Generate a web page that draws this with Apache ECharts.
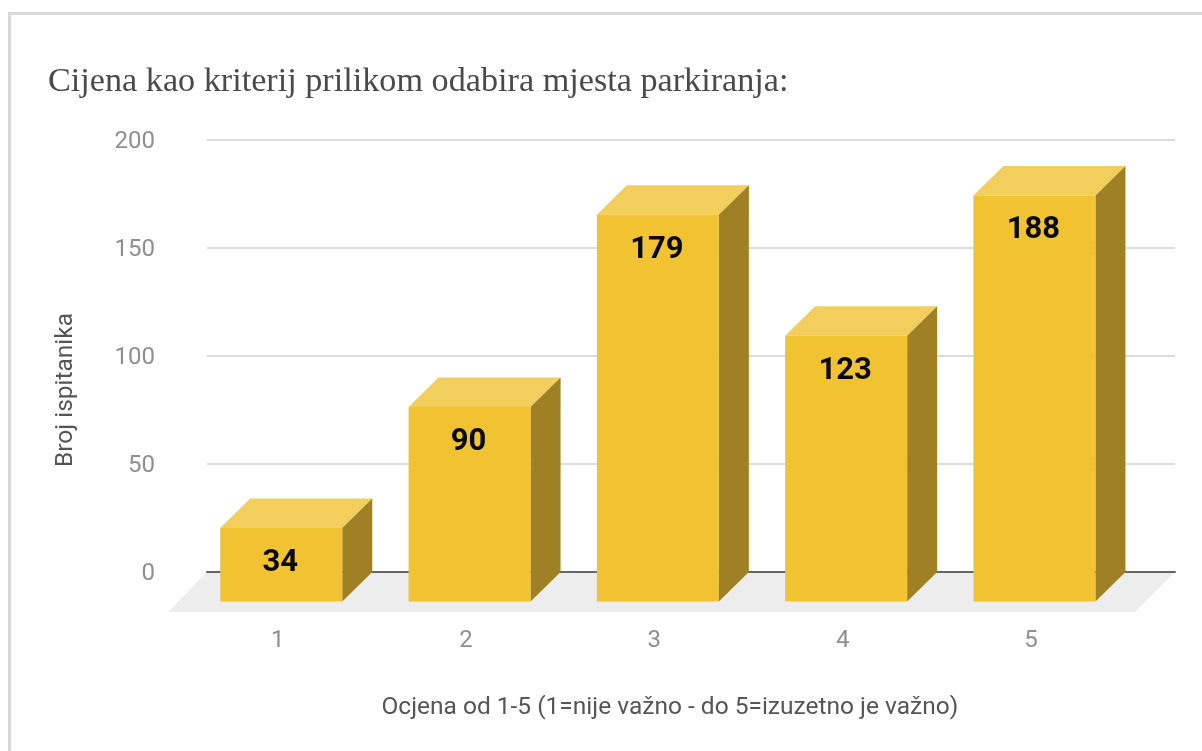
<!DOCTYPE html>
<html><head><meta charset="utf-8">
<style>html,body{margin:0;padding:0;background:#fff;width:1202px;height:751px;overflow:hidden}
#c{position:absolute;left:0;top:0;width:1202px;height:751px}
#frame{position:absolute;left:8px;top:12px;right:0;bottom:0;border-left:3px solid #d9d9d9;border-top:3px solid #d9d9d9;pointer-events:none}</style>
<script src="https://cdn.jsdelivr.net/npm/echarts@6/dist/echarts.min.js"></script>
</head><body><div id="c"></div><div id="frame"></div>
<script>
var categories = ['1','2','3','4','5'];
var values = [34,90,179,123,188];
var titleText = 'Cijena kao kriterij prilikom odabira mjesta parkiranja:';
var xName = 'Ocjena od 1-5 (1=nije važno - do 5=izuzetno je važno)';
var yName = 'Broj ispitanika';
var chart = echarts.init(document.getElementById('c'), null, {renderer:'canvas'});
var DX = 30, DY = 29.5, BW = 122, SHIFT = 3.5;
function renderBar(params, api){
  var p = api.coord([api.value(0), api.value(1)]);
  var zero = api.coord([api.value(0), 0]);
  var fl = p[0] + SHIFT - BW/2, fr = fl + BW;
  var ft = p[1] + DY, fb = zero[1] + DY;
  var br = fr + DX, bl = fl + DX, bt = p[1], bb = zero[1];
  return {type:'group', children:[
    {type:'polygon', shape:{points:[[fl,ft],[bl,bt],[br,bt],[fr,ft]]}, style:{fill:'#f2ce5c'}},
    {type:'polygon', shape:{points:[[fr,ft],[br,bt],[br,bb],[fr,fb]]}, style:{fill:'#9f8024'}},
    {type:'rect', shape:{x:fl,y:ft,width:BW,height:fb-ft}, style:{fill:'#f1c232'}},
    {type:'text', x:(fl+fr)/2-1, y:ft+35, style:{text:String(api.value(1)), fill:'#0a0a0a',
      font:'bold 31px Roboto', textAlign:'center', textVerticalAlign:'middle'}}
  ]};
}
function renderFloor(params, api){
  var cs = params.coordSys, y = cs.y + cs.height, x = cs.x, r = cs.x + cs.width;
  return {type:'polygon', shape:{points:[[x,y],[r,y],[r-40,y+40],[x-39,y+40]]}, style:{fill:'#ededed'}};
}
chart.setOption({
  animation:false,
  backgroundColor:'#fff',
  title:{text:titleText, left:43, top:60, textStyle:{fontFamily:'Liberation Serif', fontSize:34.2, fontWeight:'normal', color:'#4a4a4a'}},
  grid:[
    {left:207, right:27, top:140, bottom:179},
    {left:183.6, width:941.5, top:140, bottom:179}
  ],
  xAxis:[
    {type:'category', gridIndex:0, data:categories, z:1, axisLine:{show:true, lineStyle:{color:'#666', width:2}}, axisTick:{show:false}, axisLabel:{show:false}, splitLine:{show:false}},
    {type:'category', gridIndex:1, data:categories, axisLine:{show:false}, axisTick:{show:false}, axisLabel:{margin:57, fontFamily:'Roboto', fontSize:24, color:'#8f8f8f'},
      name:xName, nameLocation:'middle', nameGap:123, nameTextStyle:{fontFamily:'Roboto', fontSize:24.5, color:'#555', padding:[0,0,0,31]}}
  ],
  yAxis:[
    {type:'value', gridIndex:0, min:0, max:200, interval:50, axisLine:{show:false}, axisTick:{show:false},
      axisLabel:{margin:52, fontFamily:'Roboto', fontSize:24, color:'#8f8f8f', verticalAlign:'top', lineHeight:4}, splitLine:{lineStyle:{color:'#dcdcdc', width:2}},
      name:yName, nameLocation:'middle', nameGap:129, nameRotate:90, nameTextStyle:{fontFamily:'Roboto', fontSize:24.5, color:'#555', padding:[0,68,0,0]}},
    {type:'value', gridIndex:1, min:0, max:200, interval:50, show:false}
  ],
  series:[
    {type:'custom', name:'floor', xAxisIndex:0, yAxisIndex:0, z:0, clip:false, silent:true, data:[[0,0]], encode:{x:0,y:1}, renderItem:renderFloor},
    {type:'custom', name:'Broj ispitanika', xAxisIndex:1, yAxisIndex:1, z:3, clip:false, data:categories.map(function(c,i){return [i,values[i]];}), encode:{x:0,y:1}, renderItem:renderBar}
  ]
});
</script></body></html>
